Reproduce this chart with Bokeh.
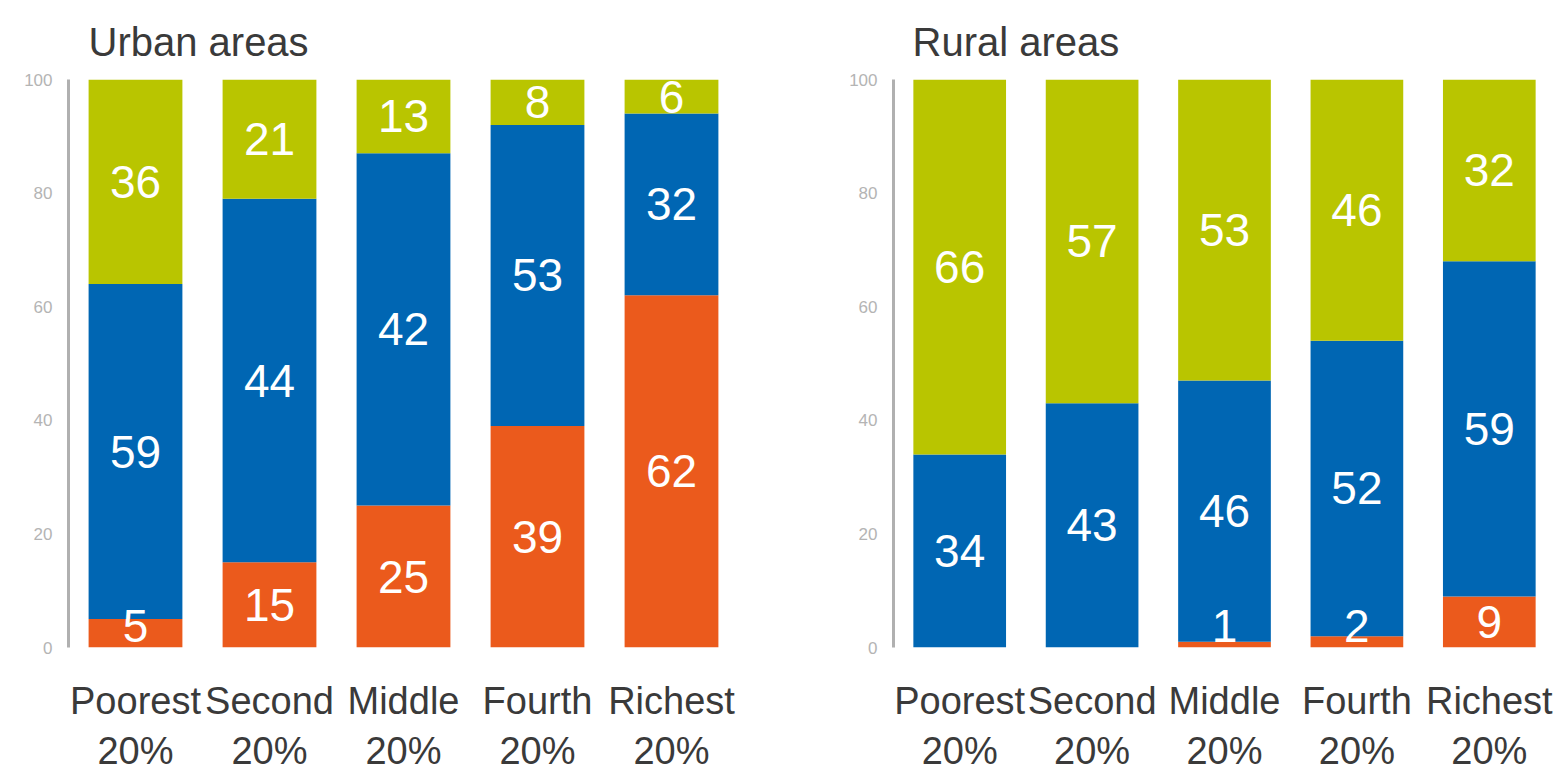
from bokeh.plotting import figure
from bokeh.layouts import row
from bokeh.models import ColumnDataSource, Range1d, FactorRange, FixedTicker
from bokeh.core.properties import value
from bokeh.embed import file_html
from bokeh.resources import INLINE

# ---------------- data ----------------
categories = ["Poorest\n20%", "Second\n20%", "Middle\n20%", "Fourth\n20%", "Richest\n20%"]
stack_names = ["orange", "blue", "green"]
colors = ["#eb5a1c", "#0066b3", "#b9c500"]
y_ticks = [0, 20, 40, 60, 80, 100]

urban_orange = [5, 15, 25, 39, 62]
urban_blue = [59, 64, 62, 53, 32]
urban_green = [36, 21, 13, 8, 6]
urban_orange_labels = ["5", "15", "25", "39", "62"]
urban_blue_labels = ["59", "44", "42", "53", "32"]
urban_green_labels = ["36", "21", "13", "8", "6"]

rural_orange = [0, 0, 1, 2, 9]
rural_blue = [34, 43, 46, 52, 59]
rural_green = [66, 57, 53, 46, 32]
rural_orange_labels = ["", "", "1", "2", "9"]
rural_blue_labels = ["34", "43", "46", "52", "59"]
rural_green_labels = ["66", "57", "53", "46", "32"]

FONT = "Liberation Sans"
DARK = "#3a3a3a"


def make_panel(title, series, labels, frame_width, border_left, border_right, title_offset):
    src = ColumnDataSource(dict(cat=categories, orange=series[0], blue=series[1], green=series[2]))
    p = figure(x_range=FactorRange(*categories, range_padding=0), y_range=Range1d(0, 100),
               frame_width=frame_width, frame_height=568,
               min_border_left=border_left, min_border_right=border_right,
               min_border_top=79, min_border_bottom=110,
               output_backend="svg", toolbar_location=None, title=title)
    p.vbar_stack(stack_names, x="cat", width=0.7, source=src,
                 fill_color=colors, line_color=None)

    # segment labels (small bottom segments: label sits at the bar foot)
    lx, ly, lt = [], [], []
    bottoms = [0] * len(categories)
    for vals, labs in zip(series, labels):
        for i, (v, t) in enumerate(zip(vals, labs)):
            if v > 0 and t:
                lx.append(categories[i])
                lt.append(t)
                if v < 6 and bottoms[i] == 0:
                    ly.append(3.8)
                else:
                    ly.append(bottoms[i] + v / 2)
            bottoms[i] += v
    p.text(x=lx, y=ly, text=lt, text_align="center", text_baseline="middle",
           text_color="white", text_font=value(FONT), text_font_size="46px")

    p.title.text_font = FONT
    p.title.text_font_size = "40px"
    p.title.text_font_style = "normal"
    p.title.text_color = DARK
    p.title.align = "left"
    p.title.vertical_align = "top"
    p.title.offset = title_offset
    p.title.standoff = 28

    p.xgrid.grid_line_color = None
    p.ygrid.grid_line_color = None
    p.outline_line_color = None

    p.yaxis.ticker = FixedTicker(ticks=y_ticks)
    p.yaxis.axis_line_color = "#b0b0b0"
    p.yaxis.axis_line_width = 3
    p.yaxis.major_tick_line_color = None
    p.yaxis.minor_tick_line_color = None
    p.yaxis.major_label_text_font = FONT
    p.yaxis.major_label_text_font_size = "17px"
    p.yaxis.major_label_text_color = "#b4b4b4"
    p.yaxis.major_label_standoff = 10

    p.xaxis.axis_line_color = None
    p.xaxis.major_tick_line_color = None
    p.xaxis.major_label_text_font = FONT
    p.xaxis.major_label_text_font_size = "38px"
    p.xaxis.major_label_text_color = DARK
    p.xaxis.major_label_standoff = 26
    return p


p1 = make_panel("Urban areas",
                [urban_orange, urban_blue, urban_green],
                [urban_orange_labels, urban_blue_labels, urban_green_labels],
                670, 68, 40, 20)
p2 = make_panel("Rural areas",
                [rural_orange, rural_blue, rural_green],
                [rural_orange_labels, rural_blue_labels, rural_green_labels],
                662, 115, 0, 19)

layout = row(p1, p2)
open("out.html", "w").write(file_html(layout, INLINE))
